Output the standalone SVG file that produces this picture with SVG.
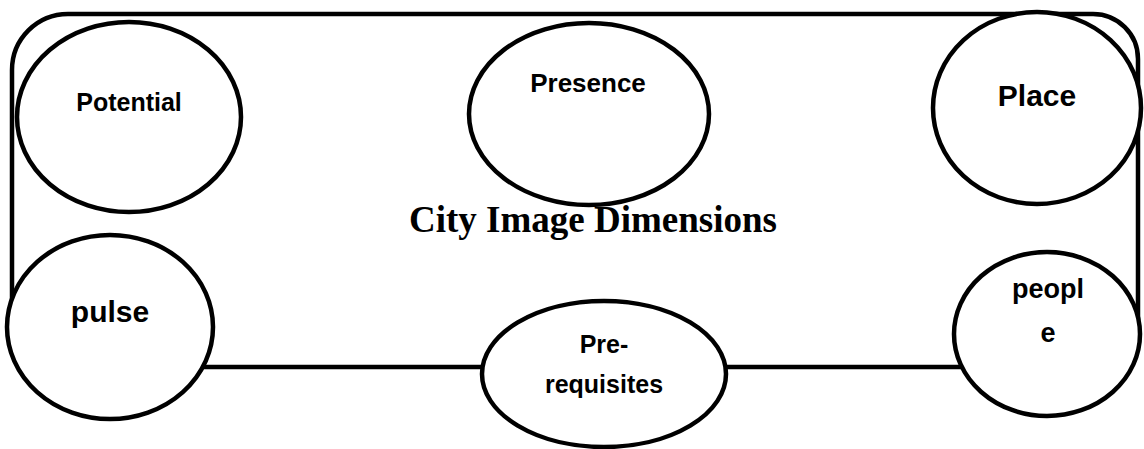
<svg xmlns="http://www.w3.org/2000/svg" width="1144" height="449" viewBox="0 0 1144 449">
<style>
.node{fill:#fff;stroke:#000;stroke-width:4.5}
.frame{fill:none;stroke:#000;stroke-width:4.5}
.lbl{font-family:"Liberation Sans",Arial,sans-serif;font-weight:bold;fill:#000;text-anchor:middle}
.title{font-family:"Liberation Serif","Times New Roman",serif;font-weight:bold;fill:#000;text-anchor:middle}
</style>
<rect width="1144" height="449" fill="#fff"/>
<g id="connectors">
<path class="frame" d="M12,320 L12,70 A56,56 0 0 1 68,14 L1093,14 A45,45 0 0 1 1138,59 L1138,320"/>
<line class="frame" x1="150" y1="367" x2="520" y2="367"/>
<line class="frame" x1="700" y1="367" x2="1000" y2="367"/>
</g>
<text class="title" x="593" y="232" font-size="37">City Image Dimensions</text>
<g id="node-potential">
<ellipse class="node" cx="129" cy="117" rx="112" ry="95"/>
<text class="lbl" x="129" y="111" font-size="25">Potential</text>
</g>
<g id="node-presence">
<ellipse class="node" cx="589" cy="114" rx="120" ry="91"/>
<text class="lbl" x="588" y="92" font-size="26">Presence</text>
</g>
<g id="node-place">
<ellipse class="node" cx="1037" cy="108" rx="104" ry="96"/>
<text class="lbl" x="1037" y="106" font-size="30">Place</text>
</g>
<g id="node-pulse">
<ellipse class="node" cx="110" cy="327" rx="103" ry="92"/>
<text class="lbl" x="110" y="322" font-size="30">pulse</text>
</g>
<g id="node-prerequisites">
<ellipse class="node" cx="604" cy="374" rx="122" ry="73"/>
<text class="lbl" x="604" y="353" font-size="25">Pre-</text>
<text class="lbl" x="604" y="393" font-size="25">requisites</text>
</g>
<g id="node-people">
<ellipse class="node" cx="1047" cy="334" rx="93" ry="82"/>
<text class="lbl" x="1048" y="298" font-size="27">peopl</text>
<text class="lbl" x="1048" y="342" font-size="27">e</text>
</g>
</svg>
